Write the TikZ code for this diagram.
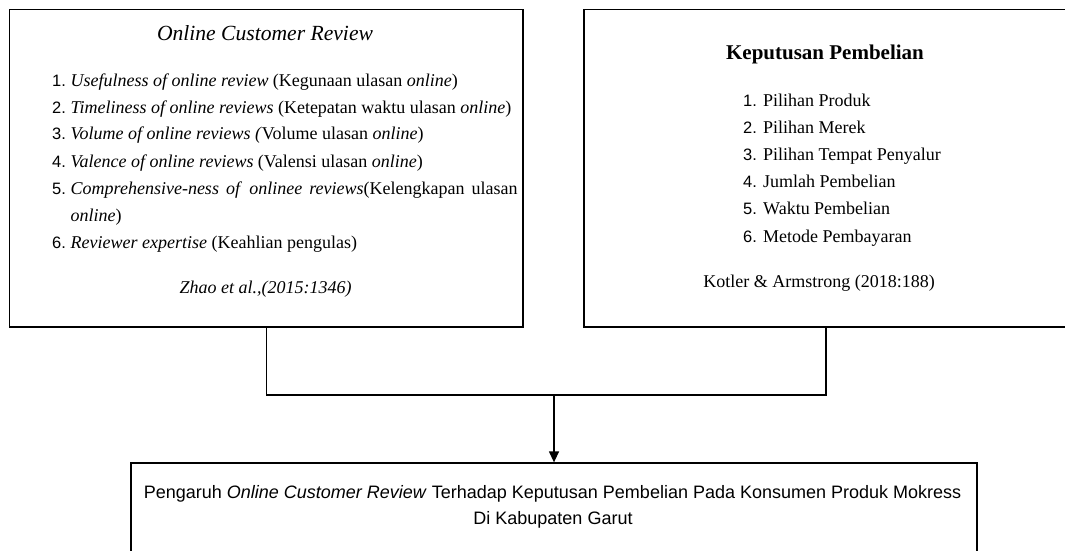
\documentclass[tikz,border=0pt]{standalone}
\usepackage{fontspec}
\setmainfont{Liberation Serif}
\newfontfamily\arialf{Liberation Sans}
\usetikzlibrary{arrows.meta}
\tikzset{
  box/.style={draw=black, line width=1.3pt, inner sep=0pt, fill=none},
  conn/.style={draw=black, line width=1.3pt},
  txt/.style={inner sep=0pt, anchor=base west, font=\fontsize{18}{22}\selectfont},
  num/.style={inner sep=0pt, anchor=base west, font=\arialf\fontsize{16.5}{20}\selectfont},
  ctxt/.style={inner sep=0pt, anchor=base, font=\fontsize{18}{22}\selectfont},
  btxt/.style={inner sep=0pt, anchor=base, font=\arialf\fontsize{18}{22}\selectfont},
}
\begin{document}
\begin{tikzpicture}[x=1pt, y=-1pt]
\useasboundingbox (0,0) rectangle (1065,550);
\clip (0,0) rectangle (1065,550);
% boxes
\node[box, minimum width=513.5pt, minimum height=317.5pt] (L) at (266.25,168.25) {};
\node[box, minimum width=484pt, minimum height=317.5pt] (R) at (826,168.25) {};
\node[box, minimum width=846pt, minimum height=120pt] (B) at (554,523) {};
% left box text
\node[ctxt, font=\itshape\fontsize{21.6}{26}\selectfont] (lt) at (265,40) {Online Customer Review};
\node[num] (n1) at (52,86) {1.};
\node[txt] (l1) at (70.5,86) {\textit{Usefulness of online review} (Kegunaan ulasan \textit{online})};
\node[num] (n2) at (52,113) {2.};
\node[txt] (l2) at (70.5,113) {\textit{Timeliness of online reviews} (Ketepatan waktu ulasan \textit{online})};
\node[num] (n3) at (52,139) {3.};
\node[txt] (l3) at (70.5,139) {\textit{Volume of online reviews (}Volume ulasan \textit{online})};
\node[num] (n4) at (52,167) {4.};
\node[txt] (l4) at (70.5,167) {\textit{Valence of online reviews} (Valensi ulasan \textit{online})};
\node[num] (n5) at (52,194) {5.};
\node[txt] (l5) at (70.5,194) {\hbox to 447pt{\textit{Comprehensive-ness}\hfil\textit{of}\hfil\textit{onlinee}\hfil\textit{reviews}(Kelengkapan\hfil ulasan}};
\node[txt] (l5b) at (70.5,221) {\textit{online})};
\node[num] (n6) at (52,248) {6.};
\node[txt] (l6) at (70.5,248) {\textit{Reviewer expertise} (Keahlian pengulas)};
\node[ctxt, font=\itshape\fontsize{18}{22}\selectfont] (lc) at (265.5,293) {Zhao et al.,(2015:1346)};
% right box text
\node[ctxt, font=\bfseries\fontsize{21}{25}\selectfont] (rt) at (825,59) {Keputusan Pembelian};
\node[num] (m1) at (743,106) {1.};
\node[txt] (r1) at (763,106) {Pilihan Produk};
\node[num] (m2) at (743,133) {2.};
\node[txt] (r2) at (763,133) {Pilihan Merek};
\node[num] (m3) at (743,160) {3.};
\node[txt] (r3) at (763,160) {Pilihan Tempat Penyalur};
\node[num] (m4) at (743,187) {4.};
\node[txt] (r4) at (763,187) {Jumlah Pembelian};
\node[num] (m5) at (743,214) {5.};
\node[txt] (r5) at (763,214) {Waktu Pembelian};
\node[num] (m6) at (743,242) {6.};
\node[txt] (r6) at (763,242) {Metode Pembayaran};
\node[ctxt] (rc) at (819,287) {Kotler \& Armstrong (2018:188)};
% bottom text
\node[btxt] (b1) at (552.5,498) {Pengaruh \textit{Online Customer Review} Terhadap Keputusan Pembelian Pada Konsumen Produk Mokress};
\node[btxt] (b2) at (553,524) {Di Kabupaten Garut};
% connectors
\coordinate (J) at (B.north |- 0,395);
\draw[conn] (L.south) |- (J) -| (R.south);
\draw[conn, -{Triangle[length=11pt, width=10pt]}] (J) -- (B.north);
\end{tikzpicture}
\end{document}
